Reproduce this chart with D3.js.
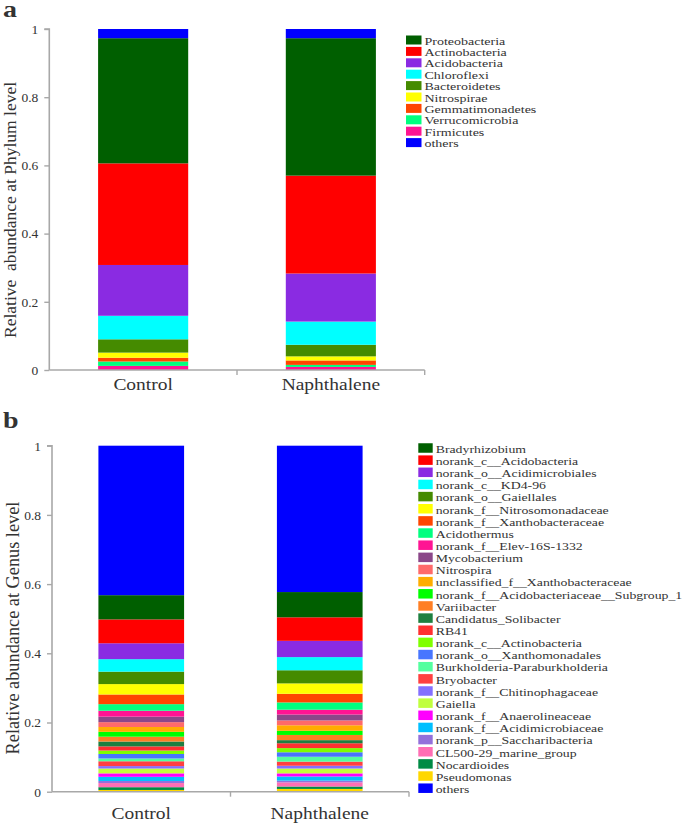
<!DOCTYPE html>
<html>
<head>
<meta charset="utf-8">
<script src="https://cdn.jsdelivr.net/npm/d3@7"></script>
<style>
  body { margin: 0; background: #fff; }
  svg { display: block; }
  text { font-family: "Liberation Serif", "Times New Roman", serif; fill: #333; }
</style>
</head>
<body>
<svg id="chart" width="685" height="828"></svg>
<script>
// ---------- DATA ----------
const categories = ["Control", "Naphthalene"];
const tickValues = [0, 0.2, 0.4, 0.6, 0.8, 1];
const tickLabels = ["0", "0.2", "0.4", "0.6", "0.8", "1"];

// Phylum level (legend order, top to bottom)
const phylumNames = ["Proteobacteria", "Actinobacteria", "Acidobacteria", "Chloroflexi", "Bacteroidetes",
  "Nitrospirae", "Gemmatimonadetes", "Verrucomicrobia", "Firmicutes", "others"];
const phylumColors = ["#005f00", "#ff0000", "#8a2be2", "#00ffff", "#458b00",
  "#ffff00", "#ff4500", "#00ff7f", "#ff1493", "#0000ff"];
const phylumControl = [0.367, 0.298, 0.149, 0.069, 0.039, 0.015, 0.011, 0.013, 0.012, 0.027];
const phylumNaphthalene = [0.403, 0.287, 0.141, 0.068, 0.034, 0.012, 0.013, 0.006, 0.009, 0.027];

// Genus level (legend order, top to bottom)
const genusNames = ["Bradyrhizobium", "norank_c__Acidobacteria", "norank_o__Acidimicrobiales", "norank_c__KD4-96",
  "norank_o__Gaiellales", "norank_f__Nitrosomonadaceae", "norank_f__Xanthobacteraceae", "Acidothermus",
  "norank_f__Elev-16S-1332", "Mycobacterium", "Nitrospira", "unclassified_f__Xanthobacteraceae",
  "norank_f__Acidobacteriaceae__Subgroup_1", "Variibacter", "Candidatus_Solibacter", "RB41",
  "norank_c__Actinobacteria", "norank_o__Xanthomonadales", "Burkholderia-Paraburkholderia", "Bryobacter",
  "norank_f__Chitinophagaceae", "Gaiella", "norank_f__Anaerolineaceae", "norank_f__Acidimicrobiaceae",
  "norank_p__Saccharibacteria", "CL500-29_marine_group", "Nocardioides", "Pseudomonas", "others"];
const genusColors = ["#005f00", "#ff0000", "#8a2be2", "#00ffff",
  "#458b00", "#ffff00", "#ff4500", "#00ff7f",
  "#ff1493", "#8b4789", "#ff6a6a", "#ffad00",
  "#00ff00", "#ff7f24", "#1e8040", "#ff3030",
  "#7fff00", "#4876ff", "#54ff9f", "#ff4040",
  "#8470ff", "#c0ff3e", "#ff00ff", "#00bfff",
  "#9370db", "#ff6eb4", "#008b45", "#ffd700", "#0000ff"];
const genusControl = [0.070, 0.069, 0.046, 0.036,
  0.036, 0.030, 0.028, 0.019,
  0.017, 0.016, 0.014, 0.014,
  0.014, 0.014, 0.014, 0.012,
  0.010, 0.013, 0.008, 0.014,
  0.007, 0.014, 0.010, 0.012,
  0.006, 0.012, 0.008, 0.005, 0.432];
const genusNaphthalene = [0.073, 0.068, 0.047, 0.038,
  0.038, 0.030, 0.025, 0.021,
  0.014, 0.017, 0.014, 0.016,
  0.012, 0.015, 0.009, 0.014,
  0.012, 0.013, 0.014, 0.012,
  0.008, 0.014, 0.009, 0.012,
  0.005, 0.012, 0.007, 0.008, 0.423];

// ---------- DRAW ----------
const svg = d3.select("#chart");
const FONT_SQUASH = 0.86;
const LEG_SQUASH = 0.8;

function panel(cfg) {
  const g = svg.append("g");
  const x = d3.scaleBand().domain(categories).range([cfg.x0, cfg.x1])
    .paddingInner(0.52).paddingOuter(0.26);
  const y = d3.scaleLinear().domain([0, 1]).range([cfg.y0, cfg.y1]);

  // stack: bottom = last legend item before "others", "others" on top
  const n = cfg.names.length;
  const order = cfg.names.slice(0, n - 1).reverse().concat([cfg.names[n - 1]]);
  const rows = categories.map((c, ci) => {
    const r = { cat: c };
    cfg.names.forEach((nm, i) => { r[nm] = cfg.series[ci][i]; });
    return r;
  });
  const stack = d3.stack().keys(order)(rows);
  const color = d3.scaleOrdinal().domain(cfg.names).range(cfg.colors);

  g.append("g").selectAll("g").data(stack).join("g")
    .attr("fill", d => color(d.key))
    .selectAll("rect").data(d => d).join("rect")
    .attr("x", d => x(d.data.cat))
    .attr("width", x.bandwidth())
    .attr("y", d => y(d[1]))
    .attr("height", d => Math.max(0, y(d[0]) - y(d[1])));

  // y axis
  const ya = g.append("g").attr("transform", `translate(${cfg.x0},0)`)
    .call(d3.axisLeft(y).tickValues(tickValues).tickFormat((d, i) => tickLabels[i]).tickSize(5).tickPadding(6));
  ya.select(".domain").attr("stroke", "#a8a8a8").attr("stroke-width", 1.6).attr("d", `M-5,${cfg.y1}H0V${cfg.y0}`);
  ya.selectAll(".tick line").attr("stroke", "#a8a8a8").attr("stroke-width", 1.4);
  ya.selectAll(".tick text").attr("font-size", 13.5).attr("fill", "#333")
    .style("font-family", '"Liberation Serif", "Times New Roman", serif');

  // x axis
  const xa = g.append("g").attr("transform", `translate(0,${cfg.y0})`);
  xa.append("line").attr("x1", cfg.x0).attr("x2", cfg.x1).attr("y1", 0).attr("y2", 0)
    .attr("stroke", "#a8a8a8").attr("stroke-width", 1.6);
  const mid = (x(categories[0]) + x.bandwidth() / 2 + x(categories[1]) + x.bandwidth() / 2) / 2;
  [mid, cfg.x1].forEach(px => {
    xa.append("line").attr("x1", px).attr("x2", px).attr("y1", 0).attr("y2", 5)
      .attr("stroke", "#a8a8a8").attr("stroke-width", 1.4);
  });
  categories.forEach(c => {
    svg.append("text")
      .attr("transform", `translate(${x(c) + x.bandwidth() / 2},${cfg.catBaseline}) scale(1,${FONT_SQUASH})`)
      .attr("text-anchor", "middle").attr("font-size", 19.5).text(c);
  });

  // y label
  svg.append("text")
    .attr("transform", `translate(${cfg.ylabX},${cfg.ylabY}) rotate(-90)`)
    .attr("text-anchor", "middle").attr("font-size", cfg.ylabSize)
    .style("white-space", "pre").text(cfg.ylabel);

  // panel letter
  svg.append("text")
    .attr("transform", `translate(3,${cfg.letterY}) scale(1,${FONT_SQUASH})`)
    .attr("font-size", 28).attr("font-weight", "bold").attr("fill", "#222").text(cfg.letter);

  // legend
  const lg = svg.append("g");
  cfg.names.forEach((nm, i) => {
    const cy = cfg.legY + i * cfg.legStep;
    lg.append("rect").attr("x", cfg.legX).attr("y", cy - cfg.swH / 2)
      .attr("width", cfg.swW).attr("height", cfg.swH).attr("fill", cfg.colors[i]);
    lg.append("text")
      .attr("transform", `translate(${cfg.legX + cfg.swW + 3},${cy + cfg.swH / 2}) scale(1,${LEG_SQUASH})`)
      .attr("font-size", cfg.legFont).text(nm);
  });
}

panel({
  x0: 49.3, x1: 424.7, y0: 370, y1: 29,
  names: phylumNames, colors: phylumColors, series: [phylumControl, phylumNaphthalene],
  catBaseline: 390, ylabX: 15.5, ylabY: 210, ylabSize: 17.5,
  ylabel: "Relative\u00a0\u00a0abundance at Phylum level",
  letter: "a", letterY: 17,
  legX: 406, legY: 40, legStep: 11.4, swW: 15.5, swH: 9, legFont: 14
});

panel({
  x0: 52, x1: 409, y0: 791.7, y1: 445.7,
  names: genusNames, colors: genusColors, series: [genusControl, genusNaphthalene],
  catBaseline: 819, ylabX: 18.5, ylabY: 628, ylabSize: 18.3,
  ylabel: "Relative abundance at Genus level",
  letter: "b", letterY: 428,
  legX: 418.3, legY: 448, legStep: 12.15, swW: 14.4, swH: 9.5, legFont: 13.8
});
</script>
</body>
</html>
